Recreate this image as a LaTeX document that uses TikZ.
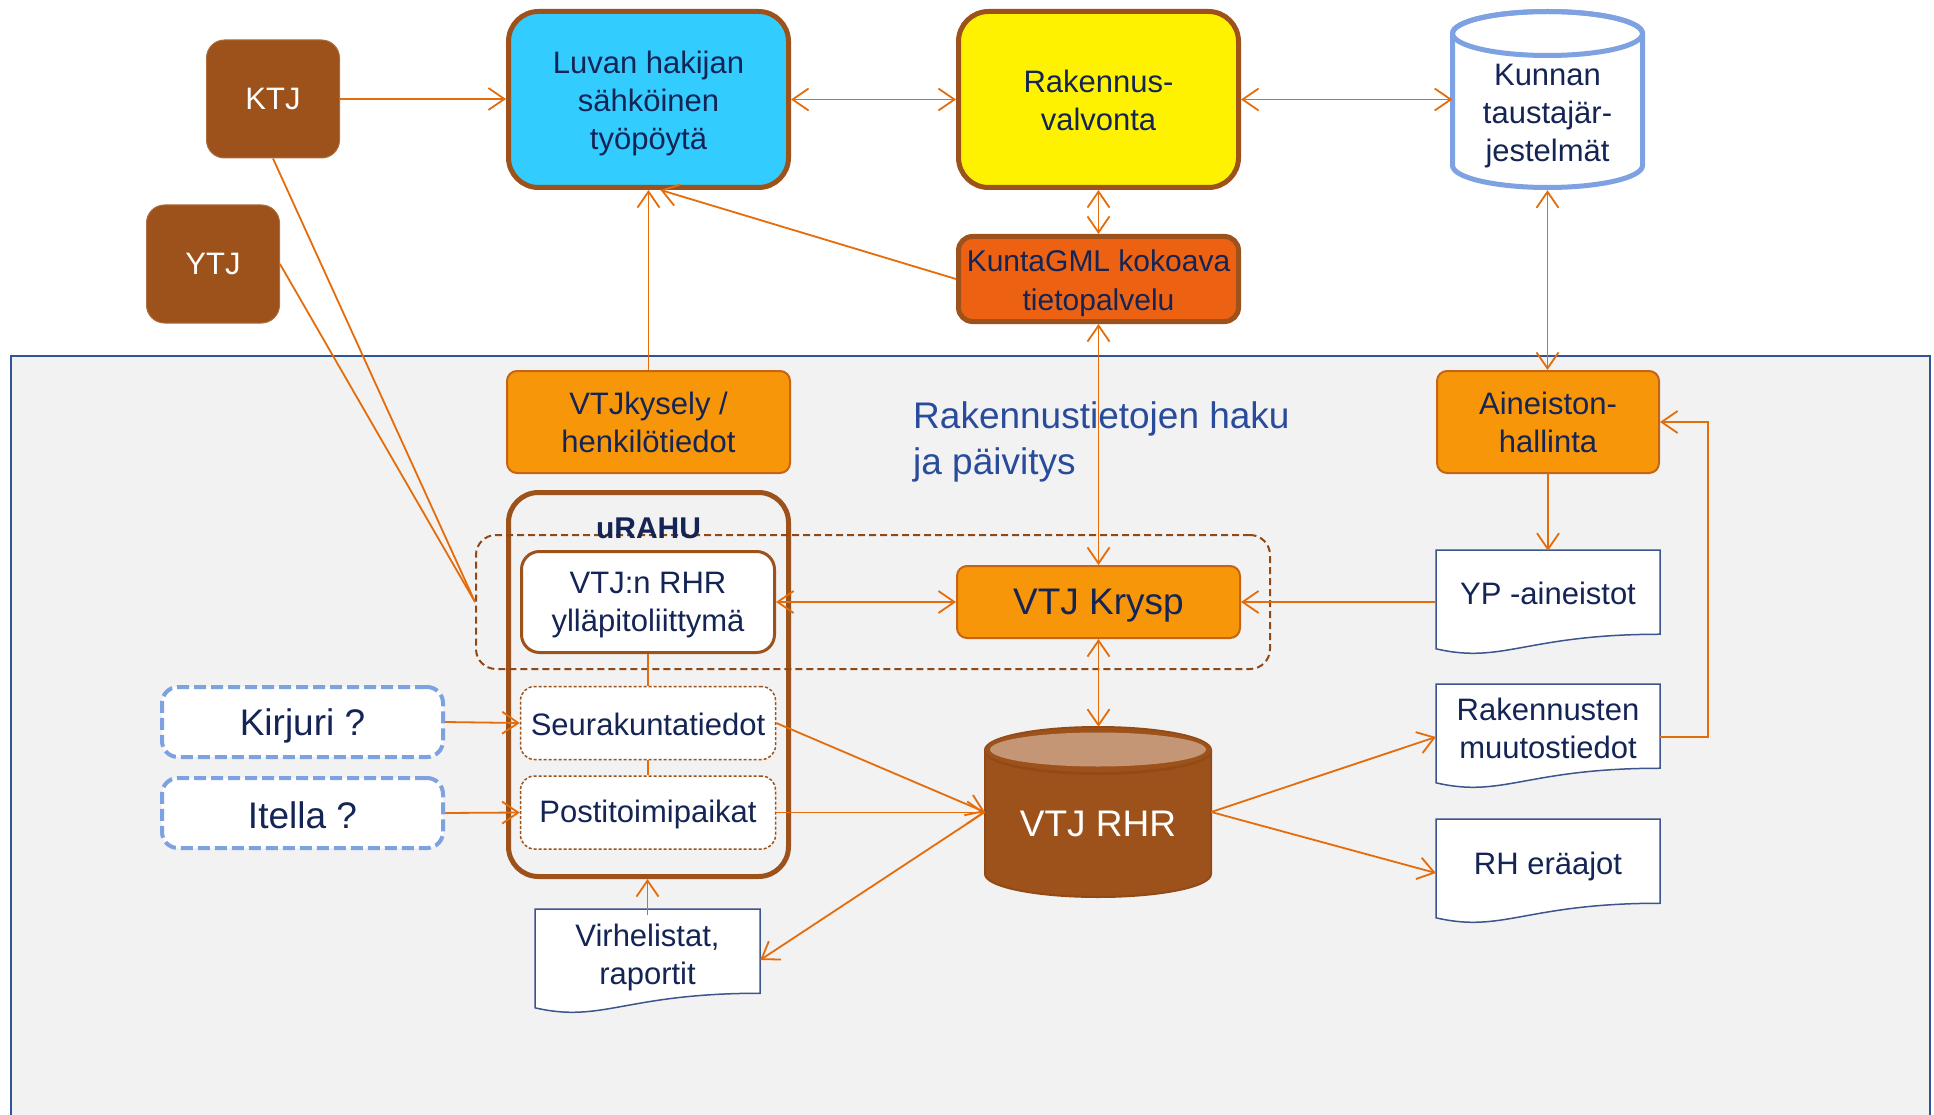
\documentclass[tikz,border=0pt]{standalone}
\usepackage{fontspec}
\setmainfont{Liberation Sans}
\usetikzlibrary{arrows.meta,calc}
\definecolor{arr}{RGB}{228,108,10}
\definecolor{brn}{RGB}{157,82,27}
\definecolor{sky}{RGB}{51,204,255}
\definecolor{kgmlc}{RGB}{236,98,18}
\definecolor{orf}{RGB}{247,150,9}
\definecolor{ord}{RGB}{196,100,20}
\definecolor{navy}{RGB}{20,36,84}
\definecolor{pnl}{RGB}{242,242,242}
\definecolor{pnlb}{RGB}{47,85,151}
\definecolor{cfb}{RGB}{126,161,226}
\definecolor{docb}{RGB}{60,85,140}
\definecolor{ttl}{RGB}{40,75,155}
\definecolor{tanc}{RGB}{196,150,118}
\definecolor{brnd}{RGB}{146,74,22}
\newcommand\docshape[4]{\filldraw[fill=white, draw=docb, line width=1.5pt] (#1,#2) -- ({#1+#3},#2) -- ({#1+#3},{#2+0.81*#4}) .. controls ({#1+0.4*#3},{#2+0.81*#4}) and ({#1+0.3*#3},{#2+1.1*#4}) .. (#1,{#2+0.95*#4}) -- cycle;}
\begin{document}
\begin{tikzpicture}[x=1pt,y=-1pt,
 >={Straight Barb[length=16pt,width=22pt]},
 every node/.style={font=\fontsize{31}{38}\selectfont, text=navy, align=center, inner sep=0pt},
 bigfont/.style={font=\fontsize{37}{45}\selectfont},
 brownbox/.style={fill=brn, draw=brn!85!white, line width=1pt, rounded corners=18pt, text=white, minimum width=133pt, minimum height=118pt},
 mainbox/.style={draw=brn, line width=5pt, rounded corners=30pt, minimum width=280pt, minimum height=176pt},
 orbox/.style={fill=orf, draw=ord, line width=2pt, rounded corners=10pt},
 subbox/.style={fill=white, draw=brn, line width=1.5pt, dash pattern=on 3pt off 2pt, rounded corners=14pt, minimum width=255pt, minimum height=73pt},
 qbox/.style={fill=white, draw=cfb, line width=4pt, dash pattern=on 12pt off 5pt, rounded corners=16pt, minimum width=281pt, minimum height=70pt},
 docnode/.style={minimum width=224pt, minimum height=84pt},
 arw/.style={draw=arr, line width=1.8pt, ->},
 barw/.style={draw=arr, line width=1.8pt, <->},
 ln/.style={draw=arr, line width=1.8pt},
]
\useasboundingbox (0,0) rectangle (1934,1115);
% panel
\filldraw[fill=pnl, draw=pnlb, line width=2pt] (11,356) rectangle (1930,1130);

% top row
\node[brownbox] (ktj) at (273,99) {KTJ};
\node[brownbox] (ytj) at (213,264) {YTJ};
\node[mainbox, fill=sky, label={[yshift=-4pt]center:{Luvan hakijan\\sähköinen\\työpöytä}}] (luvan) at (648.5,99.5) {};
\node[mainbox, fill=yellow, label={[yshift=-1pt]center:{Rakennus-\\valvonta}}] (rakv) at (1098.5,99.5) {};
% Kunnan cylinder
\filldraw[fill=white, draw=cfb, line width=5pt]
  (1452.5,33.5) -- (1452.5,165.5)
  .. controls (1452.5,177.6) and (1495.1,187.5) .. (1547.5,187.5)
  .. controls (1599.9,187.5) and (1642.5,177.6) .. (1642.5,165.5)
  -- (1642.5,33.5)
  .. controls (1642.5,21.4) and (1599.9,11.5) .. (1547.5,11.5)
  .. controls (1495.1,11.5) and (1452.5,21.4) .. (1452.5,33.5) -- cycle;
\draw[draw=cfb, line width=5pt] (1547.5,33.5) ellipse (95 and 22);
\node[minimum width=190pt, minimum height=181pt] (kunnan) at (1547.5,99.5) {};
\node at (1547.5,116) {Kunnan\\taustajär-\\jestelmät};
\node[fill=kgmlc, draw=brn, line width=5pt, rounded corners=14pt, minimum width=280pt, minimum height=85pt, label={[yshift=-4pt, font=\fontsize{30}{39}\selectfont]center:{KuntaGML kokoava\\tietopalvelu}}] (kgml) at (1098.5,279) {};

% inner panel
\node[orbox, minimum width=283pt, minimum height=102pt] (vtjk) at (648.5,422) {VTJkysely /\\henkilötiedot};
\node[orbox, minimum width=222pt, minimum height=102pt] (aine) at (1548,422) {Aineiston-\\hallinta};
\node[anchor=west, align=left, text=ttl, font=\fontsize{37}{46}\selectfont] (ttl) at (913,442) {Rakennustietojen haku\\ja päivitys};

\node[draw=brn, line width=5pt, rounded corners=30pt, minimum width=280pt, minimum height=384pt] (urahu) at (648.5,684.5) {};
\node[draw=brn!90!black, line width=2pt, dash pattern=on 7pt off 4pt, rounded corners=20pt, minimum width=794pt, minimum height=134pt] (group) at (873,602) {};
\node[font=\fontsize{30}{36}\selectfont\bfseries] (urahulbl) at (648.5,528) {uRAHU};
\node[fill=white, draw=brn, line width=3pt, rounded corners=18pt, minimum width=253pt, minimum height=101pt, label={[yshift=-3pt]center:{VTJ:n RHR\\ylläpitoliittymä}}] (vtjrhr) at (648,602) {};
\node[orbox, minimum width=283pt, minimum height=72pt, label={[yshift=-4pt, bigfont]center:VTJ Krysp}] (krysp) at (1098.5,602) {};
\node[subbox, label={[yshift=-1pt]center:Seurakuntatiedot}] (seura) at (648,723) {};
\node[subbox, label={[yshift=-2pt]center:Postitoimipaikat}] (posti) at (648,812.5) {};
\node[qbox, label={[yshift=-4pt, bigfont]center:Kirjuri ?}] (kirjuri) at (302.5,722) {};
\node[qbox, label={[yshift=-2pt, bigfont]center:Itella ?}] (itella) at (302.5,813) {};

% documents
\docshape{1436}{550}{224}{104}
\node[docnode] (yp) at (1548,593) {YP -aineistot};
\docshape{1436}{684}{224}{104}
\node[docnode] (muutos) at (1548,728) {Rakennusten\\muutostiedot};
\docshape{1436}{819}{224}{104}
\node[docnode] (erajot) at (1548,866) {RH eräajot};
\docshape{535}{909}{225}{104}
\node[docnode, minimum width=225pt] (virhe) at (647.5,957) {Virhelistat,\\raportit};

% VTJ RHR cylinder
\filldraw[fill=brn, draw=brnd, line width=2pt]
  (985,750) -- (985,874)
  .. controls (985,886.7) and (1035.6,897) .. (1098,897)
  .. controls (1160.4,897) and (1211,886.7) .. (1211,874)
  -- (1211,750)
  .. controls (1211,737.3) and (1160.4,727) .. (1098,727)
  .. controls (1035.6,727) and (985,737.3) .. (985,750) -- cycle;
\fill[brnd] (1098,752) ellipse (113 and 23);
\fill[brn] (1098,750) ellipse (113 and 22);
\fill[tanc] (1098,749.5) ellipse (108 and 17);
\node[minimum width=226pt, minimum height=170pt] (rhr) at (1098,812) {};
\node[text=white, bigfont] at (1098,824) {VTJ RHR};

% connectors
\draw[arw] (ktj.east) -- (ktj.east -| luvan.west);
\draw[barw] (luvan.east) -- (rakv.west);
\draw[barw] (rakv.east) -- (rakv.east -| kunnan.west);
\draw[barw] (rakv.south) -- (kgml.north);
\draw[arw] (kgml.west) -- ([xshift=12pt]luvan.south);
\draw[arw] (vtjk.north) -- (luvan.south);
\draw[barw] (kgml.south) -- (krysp.north);
\draw[barw] (kunnan.south) -- (kunnan.south |- aine.north);
\draw[arw] (aine.south) -- (aine.south |- yp.north);
\draw[arw] (krysp.east -| yp.west) -- (krysp.east);
\draw[barw] (krysp.west) -- (vtjrhr.east);
\draw[barw] (krysp.south) -- (krysp.south |- rhr.north);
\draw[ln] (ktj.south) -- (group.west);
\draw[ln] (ytj.east) -- (group.west);
\draw[ln] (vtjrhr.south) -- (seura.north);
\draw[ln] (seura.south) -- (posti.north);
\draw[arw] (kirjuri.east) -- (seura.west);
\draw[arw] (itella.east) -- (posti.west);
\draw[arw] (seura.east) -- (rhr.west);
\draw[arw] (posti.east) -- (posti.east -| rhr.west);
\draw[arw] (rhr.west) -- ([yshift=-3pt]virhe.east);
\draw[arw] (virhe.north) -- (virhe.north |- urahu.south);
\draw[arw] (rhr.east) -- ([yshift=-9pt]muutos.west);
\draw[arw] (rhr.east) -- ([yshift=-7pt]erajot.west);
\draw[arw] ([yshift=-9pt]muutos.east) -- ++(48,0) |- (aine.east);
\end{tikzpicture}
\end{document}
